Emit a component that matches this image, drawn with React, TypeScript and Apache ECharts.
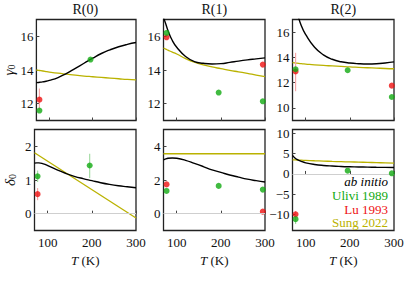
import React, { useEffect, useRef } from "react";
import * as echarts from "echarts";

// Temperatures for model curves (K)
const T_CURVE = [70, 75, 80, 90, 100, 120, 140, 160, 180, 200, 220, 240, 260, 280, 300];

// ab initio (black) curves
const ABINITIO_G_R0 = [13.25, 13.26, 13.28, 13.32, 13.38, 13.55, 13.8, 14.1, 14.4, 14.7, 14.98, 15.2, 15.38, 15.52, 15.63];
const ABINITIO_G_R1 = [17.1, 16.75, 16.35, 15.75, 15.35, 14.8, 14.5, 14.4, 14.36, 14.38, 14.45, 14.53, 14.6, 14.66, 14.72];
const ABINITIO_G_R2 = [19.0, 18.3, 17.6, 16.5, 15.8, 14.8, 14.2, 13.85, 13.65, 13.55, 13.5, 13.48, 13.5, 13.56, 13.64];
const ABINITIO_D_R0 = [1.5, 1.51, 1.51, 1.48, 1.43, 1.31, 1.2, 1.11, 1.04, 0.98, 0.92, 0.87, 0.83, 0.8, 0.77];
const ABINITIO_D_R1 = [3.2, 3.25, 3.29, 3.31, 3.29, 3.17, 2.99, 2.8, 2.6, 2.45, 2.3, 2.17, 2.05, 1.96, 1.88];
const ABINITIO_D_R2 = [4.6, 4.0, 3.6, 3.1, 2.75, 2.35, 2.1, 1.95, 1.85, 1.78, 1.73, 1.69, 1.65, 1.62, 1.6];

// Sung 2022 (olive) curves
const SUNG_G_R0 = [14.0, 13.98, 13.96, 13.92, 13.88, 13.81, 13.75, 13.69, 13.64, 13.6, 13.56, 13.52, 13.48, 13.44, 13.41];
const SUNG_G_R1 = [15.31, 15.24, 15.18, 15.06, 14.95, 14.68, 14.46, 14.3, 14.18, 14.08, 13.98, 13.89, 13.8, 13.7, 13.61];
const SUNG_G_R2 = [13.58, 13.56, 13.54, 13.5, 13.47, 13.41, 13.36, 13.32, 13.28, 13.24, 13.21, 13.18, 13.15, 13.12, 13.1];
const SUNG_D_R0_T = [70, 300];
const SUNG_D_R0 = [1.81, -0.13];
const SUNG_D_R1_T = [70, 300];
const SUNG_D_R1 = [3.56, 3.56];
const SUNG_D_R2 = [3.5, 3.47, 3.45, 3.4, 3.35, 3.26, 3.18, 3.1, 3.04, 2.98, 2.92, 2.86, 2.8, 2.75, 2.7];

// Ulivi 1989 (green) points [T, value]
const ULIVI_G_R0 = [[77, 11.59], [195, 14.62]];
const ULIVI_G_R1 = [[77, 16.2], [195, 12.66], [295, 12.14]];
const ULIVI_G_R2 = [[77, 13.06], [195, 12.98], [295, 10.86]];
const ULIVI_D_R0 = [[77, 1.11], [195, 1.43]];
const ULIVI_D_R1 = [[77, 1.35], [195, 1.65], [295, 1.43]];
const ULIVI_D_R2 = [[77, -11.2], [195, 0.8], [295, 0.15]];

// Lu 1993 (red) points [T, value]
const LU_G_R0 = [[77, 12.24]];
const LU_G_R1 = [[77, 15.94], [295, 14.32]];
const LU_G_R2 = [[77, 12.88], [295, 11.76]];
const LU_D_R0 = [[77, 0.58]];
const LU_D_R1 = [[77, 1.74], [295, 0.12]];
const LU_D_R2 = [[77, -10.0]];

// Error bars [T, low, high]
const ULIVI_ERR_D_R0 = [[77, 0.94, 1.28], [195, 1.06, 1.78]];
const ULIVI_ERR_D_R2 = [[77, -12.4, -10.0]];
const LU_ERR_G_R0 = [[77, 11.6, 12.9]];
const LU_ERR_G_R2 = [[77, 11.32, 14.36]];
const LU_ERR_D_R0 = [[77, 0.4, 0.76]];
const LU_ERR_D_R2 = [[77, -10.8, -9.2]];

// Axes
const X_RANGE = [70, 300];
const X_TICKS = [100, 200, 300];
const Y_RANGES = [[11, 17], [11, 17], [9, 17], [-0.5, 2.5], [-1, 5], [-14, 11]];
const Y_TICKS = [[12, 14, 16], [12, 14, 16], [10, 12, 14, 16], [0, 1, 2], [0, 2, 4], [-10, -5, 0, 5, 10]];
const TITLES = ["R(0)", "R(1)", "R(2)"];
const LEGEND_TEXTS = ["ab initio", "Ulivi 1989", "Lu 1993", "Sung 2022"];

const FONT = "serif";
const BLACK = "#000000";
const OLIVE = "#bab200";
const GREEN = "#11aa11";
const RED = "#ee1111";
const GREEN_ERR = "#a6dca6";
const RED_ERR = "#f6a8a8";
const LEGEND_COLORS = [BLACK, GREEN, RED, OLIVE];

const COL_LEFT = [34.5, 163.5, 292.5];
const ROW_TOP = [19.5, 129.5];
const W = 101.5;
const H = 101;

const FONT_CSS = `.chart-root svg text, .chart-root svg tspan { font-family: 'Liberation Serif', 'DejaVu Serif', serif !important; }`;

function zip(ts: number[], vs: number[]) {
  return ts.map((t, i) => [t, vs[i]]);
}

export default function App() {
  const ref = useRef<HTMLDivElement>(null);
  useEffect(() => {
    if (!ref.current) return;
    const chart = echarts.init(ref.current, null, { renderer: "svg" });

    const grids: any[] = [];
    const xAxes: any[] = [];
    const yAxes: any[] = [];
    for (let r = 0; r < 2; r++) {
      for (let c = 0; c < 3; c++) {
        const i = r * 3 + c;
        grids.push({
          left: COL_LEFT[c],
          top: ROW_TOP[r],
          width: W,
          height: H,
          show: true,
          borderColor: "#222",
          borderWidth: 1.3,
          backgroundColor: "transparent",
        });
        xAxes.push({
          type: "value",
          gridIndex: i,
          min: X_RANGE[0],
          max: X_RANGE[1],
          axisLine: { show: false },
          splitLine: { show: false },
          axisTick: { show: true, inside: true, length: 3, customValues: X_TICKS, lineStyle: { color: "#444" } },
          axisLabel: {
            show: r === 1,
            customValues: X_TICKS,
            margin: 5,
            fontFamily: FONT,
            fontSize: 13,
            color: "#111",
          },
          name: r === 1 ? "{i|T}{n| (K)}" : "",
          nameLocation: "middle",
          nameGap: 23,
          nameTextStyle: {
            fontFamily: FONT,
            rich: {
              i: { fontStyle: "italic", fontFamily: FONT, fontSize: 13, color: "#111" },
              n: { fontFamily: FONT, fontSize: 13, color: "#111" },
            },
          },
        });
        yAxes.push({
          type: "value",
          gridIndex: i,
          min: Y_RANGES[i][0],
          max: Y_RANGES[i][1],
          axisLine: { show: false },
          splitLine: { show: false },
          axisTick: { show: true, inside: true, length: 3, customValues: Y_TICKS[i], lineStyle: { color: "#444" } },
          axisLabel: {
            customValues: Y_TICKS[i],
            margin: 3,
            fontFamily: FONT,
            fontSize: 13,
            color: "#111",
            formatter: (v: number) => String(v).replace("-", "\u2212"),
          },
          name: c === 0 ? (r === 0 ? "{i|γ}{s|0}" : "{i|δ}{s|0}") : "",
          nameLocation: "middle",
          nameGap: 17,
          nameTextStyle: {
            fontFamily: FONT,
            rich: {
              i: { fontStyle: "italic", fontFamily: FONT, fontSize: 15, color: "#111" },
              s: { fontFamily: FONT, fontSize: 10, color: "#111", verticalAlign: "bottom", padding: [6, 0, 0, 0] },
            },
          },
        });
      }
    }

    const blacks = [ABINITIO_G_R0, ABINITIO_G_R1, ABINITIO_G_R2, ABINITIO_D_R0, ABINITIO_D_R1, ABINITIO_D_R2];
    const olives: number[][][] = [
      zip(T_CURVE, SUNG_G_R0),
      zip(T_CURVE, SUNG_G_R1),
      zip(T_CURVE, SUNG_G_R2),
      zip(SUNG_D_R0_T, SUNG_D_R0),
      zip(SUNG_D_R1_T, SUNG_D_R1),
      zip(T_CURVE, SUNG_D_R2),
    ];
    const greens = [ULIVI_G_R0, ULIVI_G_R1, ULIVI_G_R2, ULIVI_D_R0, ULIVI_D_R1, ULIVI_D_R2];
    const reds = [LU_G_R0, LU_G_R1, LU_G_R2, LU_D_R0, LU_D_R1, LU_D_R2];
    const greenErr: number[][][] = [[], [], [], ULIVI_ERR_D_R0, [], ULIVI_ERR_D_R2];
    const redErr: number[][][] = [LU_ERR_G_R0, [], LU_ERR_G_R2, LU_ERR_D_R0, [], LU_ERR_D_R2];

    const errRender = (color: string) => (params: any, api: any) => {
      const x = api.value(0);
      const lo = api.coord([x, api.value(1)]);
      const hi = api.coord([x, api.value(2)]);
      return {
        type: "line",
        shape: { x1: lo[0], y1: lo[1], x2: hi[0], y2: hi[1] },
        style: { stroke: color, lineWidth: 1.2 },
      };
    };

    const series: any[] = [];
    for (let i = 0; i < 6; i++) {
      if (i >= 3) {
        series.push({
          type: "line",
          xAxisIndex: i,
          yAxisIndex: i,
          data: [],
          silent: true,
          z: 1,
          markLine: {
            silent: true,
            symbol: "none",
            label: { show: false },
            lineStyle: { color: "#cfcfcf", width: 1, type: "solid" },
            data: [{ yAxis: 0 }],
          },
        });
      }
      series.push({
        type: "line",
        name: "Sung 2022",
        xAxisIndex: i,
        yAxisIndex: i,
        data: olives[i],
        smooth: true,
        showSymbol: false,
        lineStyle: { color: OLIVE, width: 1.3 },
        z: 2,
      });
      series.push({
        type: "line",
        name: "ab initio",
        xAxisIndex: i,
        yAxisIndex: i,
        data: zip(T_CURVE, blacks[i]),
        smooth: true,
        showSymbol: false,
        lineStyle: { color: BLACK, width: 1.4 },
        z: 2,
      });
      if (greenErr[i].length) {
        series.push({
          type: "custom",
          xAxisIndex: i,
          yAxisIndex: i,
          data: greenErr[i],
          encode: { x: 0, y: [1, 2] },
          renderItem: errRender(GREEN_ERR),
          z: 3,
        });
      }
      if (redErr[i].length) {
        series.push({
          type: "custom",
          xAxisIndex: i,
          yAxisIndex: i,
          data: redErr[i],
          encode: { x: 0, y: [1, 2] },
          renderItem: errRender(RED_ERR),
          z: 3,
        });
      }
      series.push({
        type: "scatter",
        name: "Lu 1993",
        xAxisIndex: i,
        yAxisIndex: i,
        data: reds[i],
        symbolSize: 6,
        itemStyle: { color: RED },
        z: 4,
      });
      series.push({
        type: "scatter",
        name: "Ulivi 1989",
        xAxisIndex: i,
        yAxisIndex: i,
        data: greens[i],
        symbolSize: 6,
        itemStyle: { color: GREEN },
        z: 5,
      });
    }

    const graphics: any[] = [];
    TITLES.forEach((t, c) => {
      graphics.push({
        type: "text",
        x: COL_LEFT[c] + W / 2,
        y: 9,
        style: { text: t, fontFamily: FONT, fontSize: 14, fill: "#111", textAlign: "center", textVerticalAlign: "middle" },
      });
    });
    LEGEND_TEXTS.forEach((t, k) => {
      graphics.push({
        type: "text",
        x: 388,
        y: 181.8 + k * 13.7,
        z: 10,
        style: {
          text: t,
          fontFamily: FONT,
          fontSize: 13,
          fontStyle: k === 0 ? "italic" : "normal",
          fill: LEGEND_COLORS[k],
          textAlign: "right",
          textVerticalAlign: "middle",
        },
      });
    });

    chart.setOption({
      animation: false,
      backgroundColor: "#ffffff",
      textStyle: { fontFamily: FONT },
      grid: grids,
      xAxis: xAxes,
      yAxis: yAxes,
      series,
      graphic: graphics,
    });
    return () => chart.dispose();
  }, []);
  return (
    <>
      <style>{FONT_CSS}</style>
      <div
        ref={ref}
        className="chart-root"
        style={{ position: "absolute", left: 0, top: 0, width: 415, height: 289 }}
      />
    </>
  );
}
